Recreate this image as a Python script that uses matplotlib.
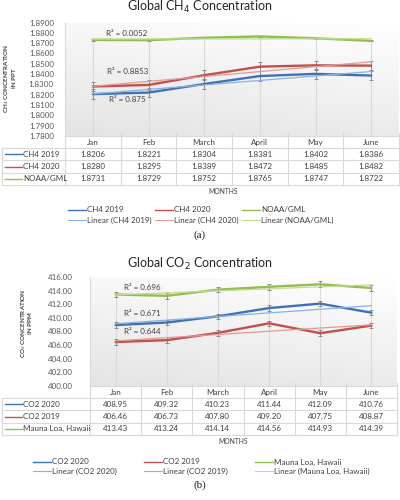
import numpy as np
import matplotlib
matplotlib.use("Agg")
import matplotlib.pyplot as plt
from matplotlib.colors import LinearSegmentedColormap

plt.rcParams['font.family'] = ['Lato', 'DejaVu Sans']

###### Data ######
months = ['Jan', 'Feb', 'March', 'April', 'May', 'June']

ch4_2019 = [1.8206, 1.8221, 1.8304, 1.8381, 1.8402, 1.8386]
ch4_2020 = [1.8280, 1.8295, 1.8389, 1.8472, 1.8485, 1.8482]
ch4_noaa = [1.8731, 1.8729, 1.8752, 1.8765, 1.8747, 1.8722]
ch4_names = ['CH4 2019', 'CH4 2020', 'NOAA/GML']
ch4_r2 = ['R² = 0.875', 'R² = 0.8853', 'R² = 0.0052']
ch4_err_pct = [0.25, 0.25, 0.03]

co2_2020 = [408.95, 409.32, 410.23, 411.44, 412.09, 410.76]
co2_2019 = [406.46, 406.73, 407.80, 409.20, 407.75, 408.87]
co2_mauna = [413.43, 413.24, 414.14, 414.56, 414.93, 414.39]
co2_names = ['CO2 2020', 'CO2 2019', 'Mauna Loa, Hawaii']
co2_r2 = ['R² = 0.671', 'R² = 0.644', 'R² = 0.696']
co2_err_pct = [0.1, 0.1, 0.1]

###### Style ######
cols = ['#3E72B6', '#C0504D', '#93BD4E']
trend_cols = ['#8DB0DC', '#E09A98', '#C4DB98']
grid_c = '#D9D9D9'
txt_c = '#404040'
fs = 5.8
W, H = 400, 500

fig = plt.figure(figsize=(4, 5), dpi=100)
ov = fig.add_axes([0, 0, 1, 1])
ov.set_xlim(0, W)
ov.set_ylim(H, 0)
ov.axis('off')
ov.set_zorder(5)
ov.patch.set_visible(False)

grad_cm = LinearSegmentedColormap.from_list('g', ['#FFFFFF', '#E4E4E4'])


def px_axes(x0, y0, x1, y1):
    return fig.add_axes([x0 / W, 1 - y1 / H, (x1 - x0) / W, (y1 - y0) / H])


def chart(box, series, names, r2, r2_pos, err_pct, ylo, yhi, ystep, yfmt, tick_pad,
          title, title_y, ylabel, ylabel_xy, months_xy, leg_y, leg_x, tag, tag_y):
    x0, y0, x1, y1 = box
    ax = px_axes(x0, y0, x1, y1)
    xs = np.arange(len(months))
    # gradient background
    gx, gy = np.meshgrid(np.linspace(0, 1, 50), np.linspace(0, 1, 50))
    g = 0.75 * gy + 0.25 * (1 - gx)
    ax.imshow(g, extent=[0, 1, 0, 1], transform=ax.transAxes, aspect='auto',
              cmap=grad_cm, vmin=0, vmax=1, zorder=0, origin='upper')
    # drop lines
    top = np.max(np.array(series), axis=0)
    ax.vlines(xs, ylo, top, color=grid_c, lw=0.8, zorder=1)
    for s, c, tc, e in zip(series, cols, trend_cols, err_pct):
        s = np.array(s)
        ax.errorbar(xs, s, yerr=s * e / 100, fmt='none', ecolor='#7F7F7F',
                    elinewidth=0.6, capsize=1.6, capthick=0.6, zorder=2)
        ax.plot(xs, s, color=c, lw=1.7, zorder=3, solid_capstyle='round')
        k, b = np.polyfit(xs, s, 1)
        ax.plot(xs, k * xs + b, color=tc, lw=0.9, zorder=4)
    ax.set_xlim(-0.5, len(months) - 0.5)
    ax.set_ylim(ylo, yhi)
    ax.set_xticks([])
    ticks = np.arange(ylo, yhi + ystep / 2, ystep)
    ax.set_yticks(ticks)
    ax.set_yticklabels([yfmt % t for t in ticks], fontsize=fs, color='#595959')
    ax.tick_params(axis='y', length=0, pad=tick_pad)
    for sp in ['top', 'right', 'bottom']:
        ax.spines[sp].set_visible(False)
    ax.spines['left'].set_color(grid_c)
    ax.spines['left'].set_linewidth(0.8)

    for t, (tx, ty) in zip(r2, r2_pos):
        ov.text(tx, ty, t, fontsize=fs, color=txt_c, ha='center', va='center', zorder=10)

    ov.text(200, title_y, title, fontsize=9, color='#262626', ha='center', va='center')
    ov.text(ylabel_xy[0], ylabel_xy[1], ylabel, fontsize=4.5, fontweight='bold', color=txt_c,
            rotation=90, ha='center', va='center', multialignment='center', linespacing=1.1)

    # data table
    rh = (len(series) + 1)
    row_h = 12.2
    cw = (x1 - x0) / len(months)
    lx = 2
    yb = [y1 + i * row_h for i in range(rh + 1)]
    ov.plot([x0, x1], [yb[0], yb[0]], color=grid_c, lw=0.8)
    for y in yb[1:]:
        ov.plot([lx, x1], [y, y], color=grid_c, lw=0.8)
    for i in range(len(months) + 1):
        ov.plot([x0 + i * cw] * 2, [yb[0] - 3, yb[-1]], color=grid_c, lw=0.8)
    ov.plot([lx, lx], [yb[1], yb[-1]], color=grid_c, lw=0.8)
    for i, m in enumerate(months):
        ov.text(x0 + (i + 0.5) * cw, (yb[0] + yb[1]) / 2, m, fontsize=fs, color=txt_c,
                ha='center', va='center')
    for r, (s, n, c) in enumerate(zip(series, names, cols)):
        yc = (yb[r + 1] + yb[r + 2]) / 2
        ov.plot([5, 22], [yc, yc], color=c, lw=1.0)
        ov.text(23, yc, n, fontsize=fs, color=txt_c, ha='left', va='center')
        for i, v in enumerate(s):
            ov.text(x0 + (i + 0.5) * cw, yc, yfmt % v, fontsize=fs, color=txt_c,
                    ha='center', va='center')
    ov.text(months_xy[0], months_xy[1], 'MONTHS', fontsize=4.9, color=txt_c,
            ha='center', va='center')

    # legend
    for n, c, tc, lxk in zip(names, cols, trend_cols, leg_x):
        ov.plot([lxk, lxk + 18], [leg_y[0]] * 2, color=c, lw=1.0)
        ov.text(lxk + 19, leg_y[0], n, fontsize=fs, color=txt_c, ha='left', va='center')
        ov.plot([lxk, lxk + 18], [leg_y[1]] * 2, color=tc, lw=0.8)
        ov.text(lxk + 19, leg_y[1], 'Linear (%s)' % n, fontsize=fs, color=txt_c,
                ha='left', va='center')
    ov.text(200, tag_y, tag, fontsize=8, family='Liberation Serif', color='#222222',
            ha='center', va='center')


chart((65, 22.5, 399, 136), [ch4_2019, ch4_2020, ch4_noaa], ch4_names, ch4_r2,
      [(127, 100), (128, 72), (127, 33)], ch4_err_pct, 1.78, 1.89, 0.01, '%.4f', 8,
      'Global CH$_4$ Concentration', 7, 'CH$_4$ CONCENTRATION\nIN PPT', (9.5, 78),
      (223, 192), (210, 220), [68, 155, 242], '(a)', 235)

chart((90, 277, 397, 386), [co2_2020, co2_2019, co2_mauna], co2_names, co2_r2,
      [(142, 314), (142, 332), (142, 287)], co2_err_pct, 400, 416, 2, '%.2f', 12,
      'Global CO$_2$ Concentration', 264, 'CO$_2$ CONCENTRATION\nIN PPM', (26, 323),
      (233, 442), (462, 471), [33, 144, 255], '(b)', 485)

fig.savefig('out.png', dpi=100)
